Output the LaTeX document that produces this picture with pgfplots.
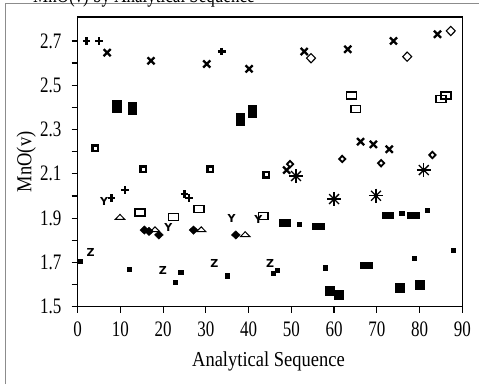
\documentclass[border=0pt]{standalone}
\usepackage{fontspec}
\setmainfont{Liberation Serif}
\setsansfont{DejaVu Sans}
\usepackage{pgfplots}
\pgfplotsset{compat=1.18}
\begin{document}
\begin{tikzpicture}
\useasboundingbox (0pt,0pt) rectangle (479pt,384pt);
\clip (0pt,0pt) rectangle (479pt,384pt);
\fill[white] (0pt,0pt) rectangle (479pt,384pt);
\draw[black!45, line width=1pt] (5.5pt,0pt) -- (5.5pt,380pt) -- (479pt,380pt);
\node[anchor=base west, inner sep=0pt, font=\fontsize{17}{17}\selectfont] at (33pt,381pt) {\scalebox{1}[1.3]{MnO(v) by Analytical Sequence}};
\begin{axis}[
  at={(77.7pt,77.3pt)}, anchor=south west,
  scale only axis, width=384.6pt, height=289.7pt,
  xmin=0, xmax=90, ymin=1.5, ymax=2.808,
  clip=false,
  axis line style={line width=1.2pt},
  tick style={line width=1.2pt, black},
  tick align=outside, tick pos=left,
  major tick length=6pt, minor tick length=6pt,
  xtick={0,10,...,90},
  ytick={1.5,1.7,1.9,2.1,2.3,2.5,2.7},
  minor ytick={1.6,1.8,2.0,2.2,2.4,2.6},
  /pgf/number format/assume math mode=true,
  tick label style={font=\fontsize{17}{17}\selectfont, inner sep=0pt},
  xticklabel={\scalebox{1}[1.3]{\pgfmathprintnumber{\tick}}},
  yticklabel={\scalebox{1}[1.3]{\pgfmathprintnumber[fixed,fixed zerofill,precision=1]{\tick}}},
  xticklabel style={anchor=north, yshift=-9pt},
  yticklabel style={anchor=east, xshift=-10pt},
  xlabel={\scalebox{1}[1.15]{Analytical Sequence}},
  ylabel={\scalebox{1}[1.15]{MnO(v)}},
  label style={font=\fontsize{18.5}{18.5}\selectfont, inner sep=0pt},
  xlabel style={at={(axis description cs:0.496,-0.2047)}, anchor=base},
  ylabel style={at={(axis description cs:-0.134,0.5)}, anchor=center},
  text mark as node=true,
  text mark style={font=\sffamily\bfseries\fontsize{11}{11}\selectfont, inner sep=0pt, anchor=center},
]
% bold plus
\addplot[only marks, mark=+, mark size=3.8pt, mark options={line width=2.6pt}] coordinates {
(2.1,2.70) (5.0,2.70) (7.95,1.99) (11.1,2.027) (24.95,2.009) (26.0,1.99) (33.7,2.652)};
% bold x
\addplot[only marks, mark=x, mark size=5pt, mark options={line width=2.3pt}] coordinates {
(6.9,2.647) (17.15,2.610) (30.2,2.596) (40.1,2.574) (53.0,2.652) (63.2,2.662) (73.9,2.70) (84.2,2.730)
(48.9,2.117) (66.2,2.245) (69.2,2.233) (72.9,2.211)};
% open diamond
\addplot[only marks, mark=diamond, mark size=4.6pt, mark options={xscale=1.3, line width=1.1pt}] coordinates {
(54.6,2.622) (77.1,2.629) (87.3,2.745)};
% small bold diamond
\addplot[only marks, mark=diamond, mark size=3.2pt, mark options={xscale=1.3, line width=1.8pt}] coordinates {
(49.7,2.144) (61.9,2.167) (71.0,2.148) (83.0,2.185)};
% asterisk (8 arms)
\addplot[only marks, mark=+, mark size=7pt, mark options={line width=1.3pt}] coordinates {
(51.1,2.090) (60.0,1.986) (69.8,2.001) (81.0,2.117)};
\addplot[only marks, mark=x, mark size=7pt, mark options={line width=1.3pt}] coordinates {
(51.1,2.090) (60.0,1.986) (69.8,2.001) (81.0,2.117)};
\addplot[only marks, mark=*, mark size=2pt] coordinates {
(51.1,2.090) (60.0,1.986) (69.8,2.001) (81.0,2.117)};
% open rectangles
\addplot[only marks, mark=square, mark size=3.5pt, mark options={xscale=1.4, line width=1.4pt}] coordinates {
(14.6,1.926) (22.4,1.904) (28.4,1.941) (43.4,1.910) (64.1,2.453) (65.1,2.392) (85.0,2.438) (86.2,2.453)};
% square with hollow centre
\addplot[only marks, mark=square, mark size=2.75pt, mark options={line width=2.5pt}] coordinates {
(4.05,2.215) (15.35,2.120) (30.96,2.120) (44.1,2.095)};
% big tall filled rectangles
\addplot[only marks, mark=square*, mark size=4.2pt, mark options={yscale=1.4}] coordinates {
(9.1,2.406) (12.8,2.396) (38.0,2.346) (40.9,2.381)};
% wide filled rectangles
\addplot[only marks, mark=square*, mark size=3.2pt, mark options={xscale=1.75}] coordinates {
(48.5,1.879) (56.3,1.864) (72.5,1.914) (78.5,1.914) (67.5,1.688)};
% small filled squares
\addplot[only marks, mark=square*, mark size=2.1pt] coordinates {
(51.8,1.872) (75.8,1.922) (81.8,1.937) (0.5,1.706) (12.0,1.669) (22.9,1.610) (24.1,1.655)
(34.9,1.640) (45.7,1.652) (46.7,1.664) (57.9,1.676) (78.8,1.719) (87.8,1.756)};
% big filled squares
\addplot[only marks, mark=square*, mark size=4.6pt] coordinates {
(59.0,1.571) (61.0,1.556) (75.3,1.586) (80.1,1.598)};
% Z
\addplot[only marks, mark=text, text mark={Z}] coordinates {
(3.0,1.743) (19.9,1.664) (32.0,1.696) (45.0,1.696)};
% Y
\addplot[only marks, mark=text, text mark={Y}] coordinates {
(6.2,1.974) (21.2,1.859) (36.0,1.899) (42.3,1.892)};
% open triangles
\addplot[only marks, mark=triangle, mark size=3.6pt, mark options={xscale=1.5, yscale=0.9, line width=1pt}] coordinates {
(9.9,1.902) (18.1,1.846) (28.9,1.846) (39.2,1.824)};
% filled diamonds
\addplot[only marks, mark=diamond*, mark size=4.2pt, mark options={xscale=1.4}] coordinates {
(15.6,1.846) (16.7,1.840) (19.0,1.824) (27.1,1.846) (37.0,1.824)};
\end{axis}
\end{tikzpicture}
\end{document}
